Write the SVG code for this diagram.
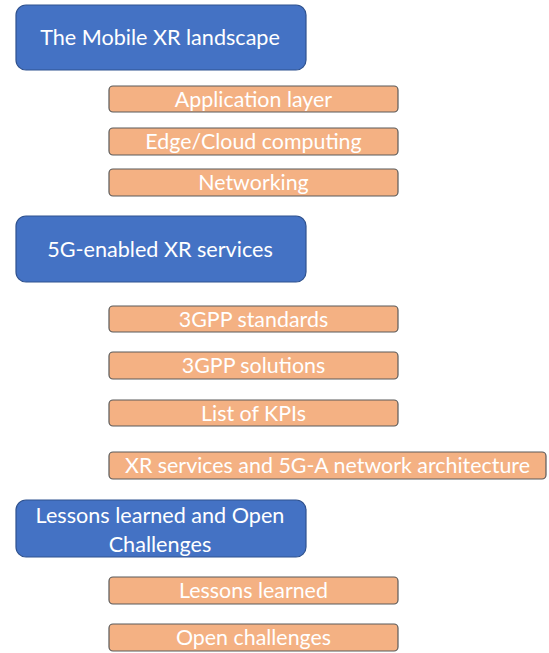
<svg xmlns="http://www.w3.org/2000/svg" width="549" height="653" viewBox="0 0 549 653">
  <style>
    .sec rect { fill: #4472C4; stroke: #2F528F; stroke-width: 1.2; }
    .sub rect { fill: #F4B183; stroke: #5A5A5A; stroke-width: 1.2; }
    text { font-family: Lato, "Open Sans", sans-serif; fill: #FFFFFF; text-anchor: middle; dominant-baseline: central; }
    .sec text { font-size: 21.6px; }
    .sub text { font-size: 21.4px; }
  </style>
  <rect width="549" height="653" fill="#FFFFFF"/>

  <!-- Section headers -->
  <g id="mobile-xr-landscape" class="sec">
    <rect x="16" y="5" width="290" height="65" rx="10"/>
    <text x="160" y="37">The Mobile XR landscape</text>
  </g>
  <g id="xr-5g-services" class="sec">
    <rect x="16" y="216" width="290" height="66" rx="10"/>
    <text x="160" y="249">5G-enabled XR services</text>
  </g>
  <g id="lessons-challenges" class="sec">
    <rect x="16" y="500" width="290" height="57" rx="10"/>
    <text x="160" y="515">Lessons learned and Open</text>
    <text x="160" y="544">Challenges</text>
  </g>

  <!-- Topic boxes -->
  <g id="application-layer" class="sub">
    <rect x="109" y="86" width="289" height="26" rx="4"/>
    <text x="253.5" y="99">Application layer</text>
  </g>
  <g id="edge-cloud" class="sub">
    <rect x="109" y="128" width="289" height="27" rx="4"/>
    <text x="253.5" y="141">Edge/Cloud computing</text>
  </g>
  <g id="networking" class="sub">
    <rect x="109" y="169" width="289" height="27" rx="4"/>
    <text x="253.5" y="182">Networking</text>
  </g>
  <g id="gpp-standards" class="sub">
    <rect x="109" y="306" width="289" height="26" rx="4"/>
    <text x="253.5" y="319">3GPP standards</text>
  </g>
  <g id="gpp-solutions" class="sub">
    <rect x="109" y="352" width="289" height="27" rx="4"/>
    <text x="253.5" y="365">3GPP solutions</text>
  </g>
  <g id="kpi-list" class="sub">
    <rect x="109" y="400" width="289" height="26" rx="4"/>
    <text x="253.5" y="413">List of KPIs</text>
  </g>
  <g id="xr-5ga-architecture" class="sub">
    <rect x="109" y="452" width="437" height="27" rx="4"/>
    <text x="327.5" y="465">XR services and 5G-A network architecture</text>
  </g>
  <g id="lessons-learned" class="sub">
    <rect x="109" y="577" width="289" height="27" rx="4"/>
    <text x="253.5" y="590">Lessons learned</text>
  </g>
  <g id="open-challenges" class="sub">
    <rect x="109" y="624" width="289" height="27" rx="4"/>
    <text x="253.5" y="637">Open challenges</text>
  </g>

  <!-- No connectors are drawn between the boxes -->
  <g id="connectors"/>
</svg>
